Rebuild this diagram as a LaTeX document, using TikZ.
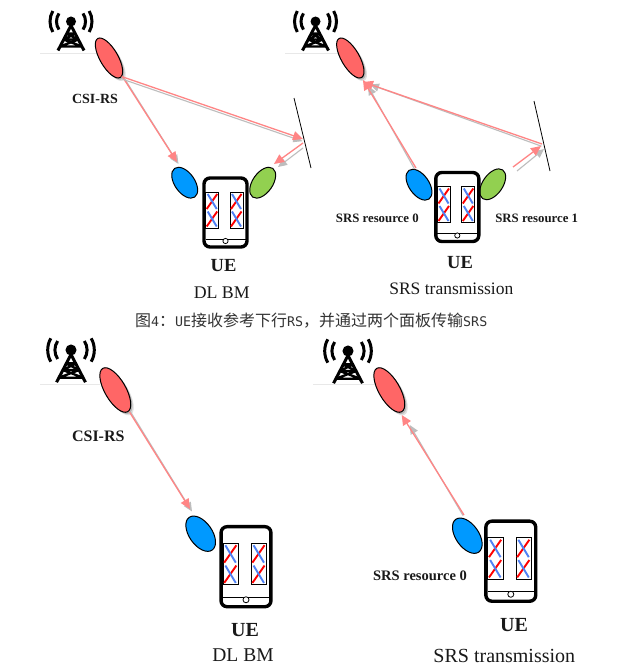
\documentclass[tikz,border=0pt]{standalone}
\usepackage{fontspec}
\setmainfont{Liberation Serif}
\setmonofont{DejaVu Sans Mono}
\newfontfamily\cjk{Noto Sans CJK SC}
\usetikzlibrary{shapes.geometric,arrows.meta}
\definecolor{rayred}{HTML}{FF8585}
\definecolor{rayshade}{HTML}{BDBDBD}
\definecolor{beamred}{HTML}{FF6666}
\definecolor{beamblue}{HTML}{0099FF}
\definecolor{beamgreen}{HTML}{92D050}
\definecolor{xblue}{HTML}{4F81F5}
\definecolor{groundc}{HTML}{E8E8E8}
\tikzset{
  x=1pt,y=-1pt,
  beam/.style={ellipse,draw=black,line width=1pt,inner sep=0pt},
  rbeam/.style={beam,fill=beamred,
    preaction={draw=none,fill=black,opacity=.12,transform canvas={shift={(3pt,-3pt)}}},
    preaction={draw=none,fill=black,opacity=.18,transform canvas={shift={(1.7pt,-1.7pt)}}}},
  bbeam/.style={beam,fill=beamblue},
  gbeam/.style={beam,fill=beamgreen},
  ray/.style={draw=rayred,line width=1.3pt,-{Triangle[length=10pt,width=9pt,fill=rayred]}},
  shade/.style={draw=rayshade,line width=1.1pt,-{Triangle[length=9pt,width=8pt,fill=rayshade]}},
  lab/.style={inner sep=0pt,text=black!90},
  pics/tower/.style={code={
    \fill (0,0) circle (5);
    \draw[line width=3pt] ([shift={(146:14.5)}]0,0) arc[start angle=146,end angle=214,radius=14.5];
    \draw[line width=3pt] ([shift={(34:14.5)}]0,0) arc[start angle=34,end angle=-34,radius=14.5];
    \draw[line width=3pt] ([shift={(150:21)}]0,0) arc[start angle=150,end angle=210,radius=21];
    \draw[line width=3pt] ([shift={(30:21)}]0,0) arc[start angle=30,end angle=-30,radius=21];
    \draw[line width=3pt] (0,4) -- (-13,29) (0,4) -- (13,29);
    \draw[line width=2.3pt] (-5,12) -- (5,12) (-7.5,18) -- (7.5,18) (-11,25) -- (11,25)
      (-5,12) -- (7.5,18) (5,12) -- (-7.5,18) (-7.5,18) -- (11,25) (7.5,18) -- (-11,25);
  }},
  pics/phone/.style={code={
    \draw[line width=3.4pt,rounded corners=6pt,fill=white] (-21.5,-34.5) rectangle (21.5,34.5);
    \draw[line width=.8pt] (-19.8,-20.5) rectangle (-6.8,15.5) (4.5,-20.5) rectangle (17.5,15.5);
    \foreach \cx in {-13.3,11} \foreach \cy in {-11,6.5} {
      \draw[red,line width=1.9pt] (\cx-5.5,\cy+7.5) -- (\cx+5,\cy-7.5);
      \draw[xblue,line width=1.9pt] (\cx-4.5,\cy-7.5) -- (\cx+4.5,\cy+7.5);
    }
    \draw[line width=.9pt] (-20,26.5) -- (20,26.5);
    \draw[line width=.8pt,fill=white] (0,28.5) circle (2.6);
  }}
}
\newcommand{\fs}[1]{\fontsize{#1}{#1}\selectfont}
\begin{document}
\begin{tikzpicture}
\useasboundingbox (0,0) rectangle (640,666);
\fill[white] (0,0) rectangle (640,666);
% ground lines
\draw[groundc,line width=.7pt] (40,53) -- (97,53) (285,53) -- (342,53) (40,384) -- (100,384) (313,384) -- (376,384);
% towers
\pic at (71,21.5) {tower};
\pic at (315.5,21.5) {tower};
\pic[scale=1.11] at (71,350) {tower};
\pic[scale=1.11] at (348,351) {tower};

% ---- panel 1
\node[rbeam,minimum width=45pt,minimum height=18pt,rotate=-60] (r1) at (109,58) {};
\node[bbeam,minimum width=35pt,minimum height=20pt,rotate=-55] (b1) at (184.7,182.7) {};
\node[gbeam,minimum width=35pt,minimum height=20pt,rotate=55] (g1) at (262.7,182.7) {};
\pic[scale=1] at (225.5,212.5) {phone};
\coordinate (a1s) at (122,76); \coordinate (a1t) at (177,162);
\coordinate (a2s) at (123,77); \coordinate (a2t) at (303,139);
\coordinate (a3s) at (303,143); \coordinate (a3t) at (274,164);
\coordinate (a3ss) at (303,148); \coordinate (a3st) at (278,167);
\draw[shade] ([shift={(1.5,1)}]a1s) -- ([shift={(1.5,2)}]a1t);
\draw[ray] (a1s) -- (a1t);
\draw[shade] ([shift={(-.5,2.2)}]a2s) -- ([shift={(-.5,2.2)}]a2t);
\draw[ray] (a2s) -- (a2t);
\draw[shade] (a3ss) -- (a3st);
\draw[ray] (a3s) -- (a3t);
\coordinate (m1a) at (294,98); \coordinate (m1b) at (311,168);
\draw[line width=.8pt] (m1a) -- (m1b);
\node[lab,font=\bfseries\fs{14}] (t1) at (95,98.7) {CSI-RS};
\node[lab,font=\bfseries\fs{18.5}] (t2) at (223.5,266) {UE};
\node[lab,font=\fs{17.8}] (t3) at (221.7,293) {DL BM};

% ---- panel 2
\node[rbeam,minimum width=45pt,minimum height=18pt,rotate=-60] (r2) at (350.3,58) {};
\node[bbeam,minimum width=35pt,minimum height=20pt,rotate=-55] (b2) at (419,184.7) {};
\node[gbeam,minimum width=35pt,minimum height=20pt,rotate=55] (g2) at (492.7,184.3) {};
\pic[scale=1] at (457.3,207) {phone};
\coordinate (c1s) at (416,168); \coordinate (c1t) at (363,80);
\coordinate (c2s) at (542,144); \coordinate (c2t) at (363,82);
\coordinate (c3s) at (513,167); \coordinate (c3t) at (541,146);
\coordinate (c3ss) at (517,171); \coordinate (c3st) at (544,149);
\draw[shade] ([shift={(-1.5,1)}]c1s) -- ([shift={(5,6)}]c1t);
\draw[ray] (c1s) -- (c1t);
\draw[shade] ([shift={(-.5,2.2)}]c2s) -- ([shift={(7,2.5)}]c2t);
\draw[ray] (c2s) -- (c2t);
\draw[shade] (c3ss) -- (c3st);
\draw[ray] (c3s) -- (c3t);
\coordinate (m2a) at (534,101); \coordinate (m2b) at (550,171);
\draw[line width=.8pt] (m2a) -- (m2b);
\node[lab,font=\bfseries\fs{12.8}] (t4) at (377.3,218.3) {SRS resource 0};
\node[lab,font=\bfseries\fs{12.8}] (t5) at (536.7,218.3) {SRS resource 1};
\node[lab,font=\bfseries\fs{18.5}] (t6) at (460,263) {UE};
\node[lab,font=\fs{17.5}] (t7) at (451.3,289) {SRS transmission};

% caption
\node[inner sep=0pt,anchor=west,text=black!80] (cap) at (135,321) {\cjk\fs{16}图{\ttfamily\fs{13.3}4}：{\ttfamily\fs{13.3}UE}接收参考下行{\ttfamily\fs{13.3}RS}，并通过两个面板传输{\ttfamily\fs{13.3}SRS}};

% ---- panel 3
\node[rbeam,minimum width=50pt,minimum height=21pt,rotate=-60] (r3) at (115.3,390) {};
\node[bbeam,minimum width=40pt,minimum height=23pt,rotate=-55] (b3) at (200.7,533.7) {};
\pic[scale=1.16] at (246,566.7) {phone};
\coordinate (d1s) at (129.3,411.7); \coordinate (d1t) at (190,509);
\draw[shade] ([shift={(1.5,.5)}]d1s) -- ([shift={(2,2.5)}]d1t);
\draw[ray] (d1s) -- (d1t);
\node[lab,font=\bfseries\fs{16}] (t8) at (98.3,436.7) {CSI-RS};
\node[lab,font=\bfseries\fs{20}] (t9) at (245,630) {UE};
\node[lab,font=\fs{19.5}] (t10) at (243,655.5) {DL BM};

% ---- panel 4
\node[rbeam,minimum width=50pt,minimum height=21pt,rotate=-60] (r4) at (389.3,390) {};
\node[bbeam,minimum width=40pt,minimum height=23pt,rotate=-55] (b4) at (467.3,535.7) {};
\pic[scale=1.16] at (510.8,561.2) {phone};
\coordinate (e1s) at (464,515); \coordinate (e1t) at (401.7,415);
\draw[shade] ([shift={(-1,.5)}]e1s) -- ([shift={(8,10)}]e1t);
\draw[ray] (e1s) -- (e1t);
\node[lab,font=\bfseries\fs{14.5}] (t11) at (420,575.7) {SRS resource 0};
\node[lab,font=\bfseries\fs{20}] (t12) at (514,625) {UE};
\node[lab,font=\fs{20}] (t13) at (504.3,655.5) {SRS transmission};
\end{tikzpicture}
\end{document}
